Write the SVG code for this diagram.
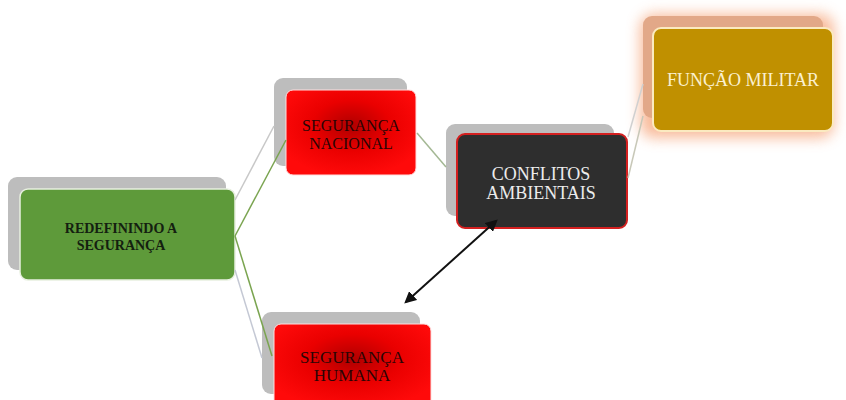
<svg xmlns="http://www.w3.org/2000/svg" width="846" height="400" viewBox="0 0 846 400">
  <defs>
    <radialGradient id="redFill" cx="0.5" cy="0.42" r="0.6">
      <stop offset="0" stop-color="#b00000"/>
      <stop offset="0.5" stop-color="#ea0000"/>
      <stop offset="1" stop-color="#ff0a0a"/>
    </radialGradient>
    <filter id="glow" x="-30%" y="-30%" width="160%" height="160%">
      <feGaussianBlur stdDeviation="7"/>
    </filter>
    <marker id="arrowHead" viewBox="0 0 10 10" refX="8" refY="5" markerWidth="6" markerHeight="6" orient="auto-start-reverse">
      <path d="M0,0 L10,5 L0,10 z" fill="#111"/>
    </marker>
  </defs>
  <style>
    .back { fill: #bdbdbd; }
    .label { font-family: "Liberation Serif", "Times New Roman", serif; font-size: 16px; text-anchor: middle; }
    .small { font-size: 14px; font-weight: bold; }
    .mid { font-size: 17px; }
    .big { font-size: 18px; }
    .dark { fill: #2a0505; }
    .conn { fill: none; stroke-width: 1.5; }
  </style>
  <rect width="846" height="400" fill="#ffffff"/>

  <!-- REDEFININDO A SEGURANÇA -->
  <g id="redefinindo">
    <rect class="back" x="8" y="177" width="218" height="93" rx="9"/>
    <rect x="20" y="189" width="215" height="91" rx="8" fill="#5e9a3a" stroke="#e8f0e0" stroke-width="1.5"/>
    <text class="label small" x="121" y="233" fill="#142010">REDEFININDO A</text>
    <text class="label small" x="121" y="250" fill="#142010">SEGURANÇA</text>
  </g>

  <!-- SEGURANÇA NACIONAL -->
  <g id="nacional">
    <rect class="back" x="274" y="78" width="133" height="88" rx="9"/>
    <rect x="286" y="90" width="130" height="85" rx="7" fill="url(#redFill)" stroke="#ffdede" stroke-width="1"/>
    <text class="label dark" x="351" y="131">SEGURANÇA</text>
    <text class="label dark" x="351" y="149">NACIONAL</text>
  </g>

  <!-- CONFLITOS AMBIENTAIS -->
  <g id="conflitos">
    <rect class="back" x="446" y="124" width="168" height="92" rx="9"/>
    <rect x="457" y="134" width="170" height="94" rx="8" fill="#2e2e2e" stroke="#d42020" stroke-width="2"/>
    <text class="label big" x="541" y="180" fill="#ececec">CONFLITOS</text>
    <text class="label big" x="541" y="199" fill="#ececec">AMBIENTAIS</text>
  </g>

  <!-- FUNÇÃO MILITAR -->
  <g id="funcao">
    <rect x="640" y="14" width="194" height="124" rx="14" fill="#f6a57a" opacity="0.75" filter="url(#glow)"/>
    <rect x="643" y="16" width="180" height="102" rx="9" fill="#e2a888"/>
    <rect x="653" y="28" width="180" height="103" rx="8" fill="#c09000" stroke="#fbeac0" stroke-width="2"/>
    <text class="label big" x="743" y="86" fill="#fbf0d0">FUNÇÃO MILITAR</text>
  </g>

  <!-- SEGURANÇA HUMANA -->
  <g id="humana">
    <rect class="back" x="262" y="312" width="158" height="82" rx="9"/>
    <rect x="274" y="324" width="157" height="84" rx="7" fill="url(#redFill)" stroke="#ffdede" stroke-width="1"/>
    <text class="label mid dark" x="352" y="363">SEGURANÇA</text>
    <text class="label mid dark" x="352" y="381">HUMANA</text>
  </g>

  <!-- connectors, drawn last so the arrowheads sit on top -->
  <g id="connectors">
    <line class="conn" x1="235" y1="200" x2="274" y2="126" stroke="#c8c8c8"/>
    <line class="conn" x1="235" y1="236" x2="286" y2="140" stroke="#7aa450"/>
    <line class="conn" x1="235" y1="236" x2="272" y2="356" stroke="#7aa450"/>
    <line class="conn" x1="235" y1="270" x2="262" y2="358" stroke="#c4c8d4"/>
    <line class="conn" x1="417" y1="133" x2="446" y2="167" stroke="#a4b894" stroke-width="2.5"/>
    <line class="conn" x1="628" y1="137" x2="643" y2="84" stroke="#d0d0d0"/>
    <line class="conn" x1="628" y1="178" x2="643" y2="116" stroke="#c8c8b8"/>
    <line x1="496" y1="221" x2="406" y2="302" stroke="#111" stroke-width="2" marker-start="url(#arrowHead)" marker-end="url(#arrowHead)"/>
  </g>
</svg>
